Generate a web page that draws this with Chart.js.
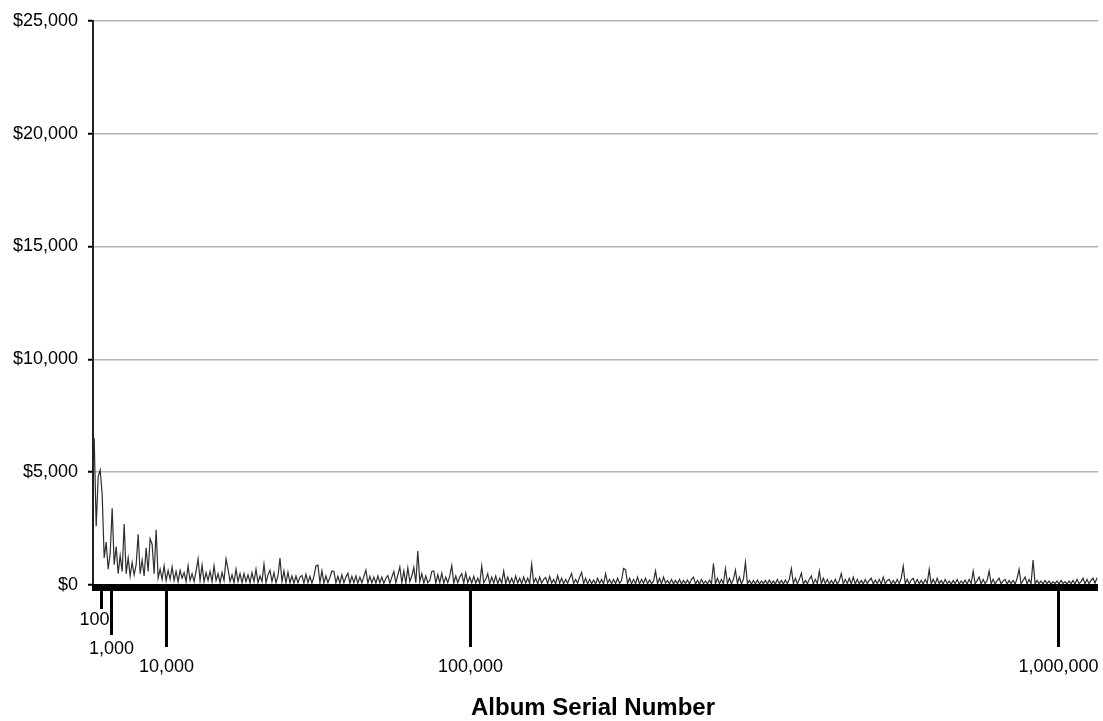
<!DOCTYPE html>
<html>
<head>
<meta charset="utf-8">
<title>Album Serial Number</title>
<script src="https://cdn.jsdelivr.net/npm/chart.js@4"></script>
<style>
  html, body { margin: 0; padding: 0; background: #fff; }
  #wrap { width: 1103px; height: 721px; }
</style>
</head>
<body>
<div id="wrap"><canvas id="c" width="1103" height="721"></canvas></div>
<script>
// Sale price (USD) of each sampled album, in serial-number order.
const salePrices = [
  6500, 2600, 4800, 5100, 4000, 1200, 1900, 700, 1400, 3400,
  900, 1700, 500, 1300, 600, 2700, 500, 1200, 400, 1000,
  450, 900, 2250, 500, 1100, 400, 1650, 600, 2050, 1800,
  500, 2450, 300, 700, 250, 850, 200, 650, 250, 800,
  200, 600, 150, 650, 300, 550, 150, 850, 200, 500,
  150, 600, 1150, 200, 880, 150, 550, 200, 600, 150,
  850, 200, 500, 100, 550, 200, 1150, 700, 150, 450,
  100, 700, 150, 500, 100, 500, 150, 450, 100, 550,
  150, 700, 100, 400, 150, 920, 100, 450, 650, 150,
  550, 100, 400, 1190, 150, 620, 100, 570, 100, 400,
  80, 400, 100, 350, 420, 80, 480, 100, 380, 80,
  380, 840, 880, 100, 630, 80, 400, 100, 350, 620,
  600, 100, 380, 80, 450, 100, 350, 520, 80, 380,
  100, 400, 80, 350, 100, 380, 660, 80, 380, 100,
  350, 80, 400, 100, 350, 80, 300, 420, 80, 350,
  600, 100, 450, 800, 100, 620, 80, 760, 150, 400,
  780, 100, 1500, 150, 500, 80, 400, 100, 200, 600,
  620, 80, 450, 100, 520, 80, 350, 100, 400, 860,
  80, 400, 100, 350, 500, 80, 540, 100, 350, 80,
  380, 80, 300, 60, 840, 100, 250, 500, 60, 350,
  80, 400, 60, 300, 80, 620, 60, 350, 80, 300,
  60, 400, 80, 300, 60, 350, 80, 300, 60, 920,
  100, 300, 60, 350, 80, 250, 330, 60, 380, 80,
  250, 50, 410, 80, 300, 50, 250, 80, 300, 510,
  60, 250, 80, 350, 560, 60, 300, 50, 250, 60,
  220, 50, 300, 80, 250, 50, 500, 80, 250, 50,
  250, 60, 300, 80, 200, 730, 680, 60, 300, 50,
  250, 60, 350, 50, 250, 80, 300, 50, 220, 60,
  180, 620, 60, 300, 50, 350, 80, 200, 50, 250,
  50, 200, 60, 250, 40, 200, 60, 220, 40, 250,
  350, 50, 200, 40, 250, 60, 180, 40, 220, 50,
  950, 50, 300, 60, 250, 50, 730, 60, 300, 50,
  250, 660, 60, 350, 50, 250, 1000, 60, 200, 40,
  200, 50, 220, 40, 180, 60, 200, 40, 220, 50,
  180, 40, 250, 60, 200, 40, 220, 60, 250, 730,
  60, 300, 50, 250, 520, 40, 200, 60, 250, 400,
  50, 250, 60, 620, 50, 300, 60, 250, 40, 200,
  50, 250, 40, 200, 510, 50, 250, 60, 300, 50,
  350, 40, 250, 60, 200, 40, 250, 60, 200, 300,
  40, 220, 60, 250, 40, 350, 50, 200, 250, 40,
  200, 50, 250, 60, 300, 840, 50, 250, 40, 220,
  300, 40, 250, 60, 200, 40, 250, 60, 690, 50,
  250, 40, 300, 60, 200, 40, 250, 60, 180, 40,
  200, 60, 250, 40, 180, 60, 220, 40, 250, 60,
  620, 50, 200, 350, 40, 250, 60, 200, 620, 50,
  250, 40, 200, 300, 50, 180, 250, 40, 200, 60,
  200, 40, 300, 690, 50, 200, 350, 40, 250, 60,
  1100, 50, 200, 60, 180, 40, 200, 60, 180, 40,
  150, 60, 180, 40, 200, 60, 150, 40, 180, 60,
  200, 40, 250, 60, 150, 300, 50, 250, 60, 200,
  300, 80, 320
];

// Serial numbers marked on the horizontal axis, and where each falls in the sample order.
const serialTickLabels = ['100', '1,000', '10,000', '100,000', '1,000,000'];
const serialTickIndex = [3.3, 8.3, 35.8, 188.3, 482.3];

// Price gridlines.
const priceTicks = [0, 5000, 10000, 15000, 20000, 25000];

// Drawing styles for the serial-number ticks (mark end and label centre, px below the plot).
const serialTickMarkEnd = [24, 50, 62, 62, 62];
const serialTickLabelY = [35, 64, 82, 82, 82];

const points = salePrices.map((v, i) => ({ x: i, y: v }));

const serialAxis = {
  id: 'serialAxis',
  afterDraw(chart) {
    const { ctx, chartArea } = chart;
    const xs = chart.scales.x;
    ctx.save();
    // heavy baseline under the plot
    ctx.fillStyle = '#000';
    ctx.fillRect(chartArea.left - 1, chartArea.bottom - 1, chartArea.right - chartArea.left + 1, 7);
    // serial-number tick marks and labels
    ctx.strokeStyle = '#000';
    ctx.lineWidth = 3;
    ctx.font = '18px "Liberation Sans", Arial, sans-serif';
    ctx.fillStyle = '#000';
    ctx.textAlign = 'center';
    ctx.textBaseline = 'middle';
    serialTickIndex.forEach((pos, k) => {
      const px = Math.round(xs.getPixelForValue(pos)) + 0.5;
      ctx.beginPath();
      ctx.moveTo(px, chartArea.bottom + 5);
      ctx.lineTo(px, chartArea.bottom + serialTickMarkEnd[k]);
      ctx.stroke();
      let lx = px;
      if (k === 0) lx = px - 7;
      ctx.fillText(serialTickLabels[k], lx, chartArea.bottom + serialTickLabelY[k]);
    });
    // axis title
    ctx.font = 'bold 24px "Liberation Sans", Arial, sans-serif';
    ctx.fillText('Album Serial Number', 593, 708);
    ctx.restore();
  }
};

new Chart(document.getElementById('c'), {
  type: 'line',
  data: {
    datasets: [{
      data: points,
      borderColor: '#2e2e2e',
      borderWidth: 1.2,
      pointRadius: 0,
      tension: 0,
      fill: false
    }]
  },
  options: {
    responsive: false,
    animation: false,
    devicePixelRatio: 1,
    layout: { padding: { top: 17, right: 5, bottom: 136, left: 0 } },
    plugins: { legend: { display: false }, tooltip: { enabled: false }, title: { display: false } },
    scales: {
      x: {
        type: 'linear',
        min: -0.6,
        max: salePrices.length - 0.5,
        display: false
      },
      y: {
        min: 0,
        max: 25000,
        afterFit(scale) { scale.width = 93; },
        afterBuildTicks(scale) { scale.ticks = priceTicks.map(v => ({ value: v })); },
        ticks: {
          padding: 10,
          color: '#000',
          font: { family: '"Liberation Sans", Arial, sans-serif', size: 18 },
          callback: v => '$' + Number(v).toLocaleString('en-US')
        },
        grid: {
          color: '#b4b4b4',
          lineWidth: 1.5,
          tickLength: 5,
          tickColor: '#000',
          tickWidth: 2
        },
        border: { color: '#222', width: 2 }
      }
    }
  },
  plugins: [serialAxis]
});
</script>
</body>
</html>
